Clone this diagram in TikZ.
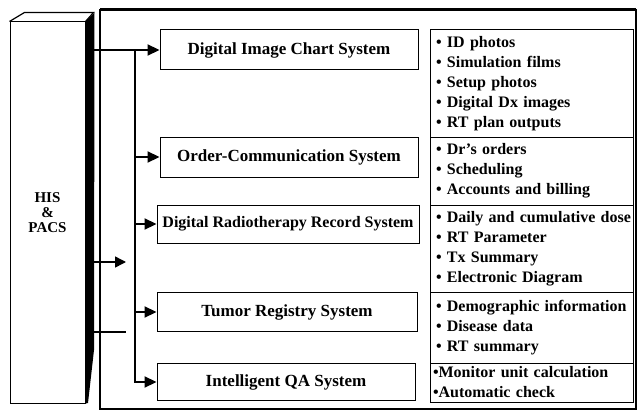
\documentclass[tikz,border=0pt]{standalone}
\usepackage{fontspec}
\setmainfont{Liberation Serif}
\usetikzlibrary{arrows.meta}

\begin{document}
\begin{tikzpicture}[x=1pt,y=-1pt,
    sysbox/.style={draw,line width=1pt,minimum width=258pt,minimum height=40pt,
      font=\bfseries\fontsize{17}{18}\selectfont},
    listbox/.style={draw,line width=1pt,minimum width=203pt,text width=191pt,
      align=left,inner xsep=6pt,inner ysep=0.5pt,font=\bfseries\fontsize{16}{20}\selectfont},
    conn/.style={line width=2.2pt,-{Triangle[length=12pt,width=11pt]}},
    feed/.style={line width=1.5pt}]
  \useasboundingbox (0,0) rectangle (640,412);
  \draw[line width=1.4pt] (100,10) rectangle (636,409);
  \draw[line width=3pt] (100,10) -- (636,10);

  \node[draw,line width=1pt,minimum width=75pt,minimum height=381pt,align=center,
    font=\bfseries\fontsize{15}{15}\selectfont] (his) at (47.5,212.5) {HIS\\\&\\PACS};
  \draw[line width=1.2pt] (his.north west) -- ++(15,-9) -- ++(69,0) -- (his.north east);
  \fill (his.north east) -- ++(9,-9) -- (94,350) -- (88,403) -- (his.south east) -- cycle;

  \node[sysbox] (dic) at (289,50) {Digital Image Chart System};
  \node[sysbox] (ocs) at (289,157) {Order-Communication System};
  \node[sysbox,minimum width=262pt,minimum height=38pt,inner xsep=1pt,
    font=\bfseries\fontsize{16}{18}\selectfont] (drrs) at (288,224)
    {Digital Radiotherapy Record System};
  \node[sysbox,minimum width=260pt,minimum height=39pt] (trs) at (287,312) {Tumor Registry System};
  \node[sysbox,minimum height=37pt] (qa) at (286,382) {Intelligent QA System};

  \node[listbox,minimum height=107pt] (dicl) at (531.5,83.5)
    {• ID photos\\• Simulation films\\• Setup photos\\• Digital Dx images\\• RT plan outputs};
  \node[listbox,minimum height=68pt] (ocsl) at (531.5,171)
    {• Dr’s orders\\• Scheduling\\• Accounts and billing};
  \node[listbox,minimum height=87pt] (drrsl) at (531.5,248.5)
    {\mbox{• Daily and cumulative dose}\\• RT Parameter\\• Tx Summary\\• Electronic Diagram};
  \node[listbox,minimum height=71pt] (trsl) at (531.5,327.5)
    {\mbox{• Demographic information}\\• Disease data\\• RT summary};
  \node[listbox,minimum height=39pt,inner xsep=3pt,text width=197pt] (qal) at (531.5,382.5)
    {•Monitor unit calculation\\•Automatic check};

  \coordinate (hisr) at (93,0);
  \coordinate (trunk) at (135,0);
  \coordinate (in1) at (126,262);
  \coordinate (in2) at (126,332);
  \draw[conn] (hisr |- dic.west) -- (dic.west);
  \draw[conn] (trunk |- dic.west) -- (trunk |- qa.west) -- (qa.west);
  \foreach \n in {ocs,drrs,trs}
    \draw[conn] (trunk |- \n.west) -- (\n.west);
  \draw[feed,-{Triangle[length=11pt,width=11pt]}] (hisr |- in1) -- (in1);
  \draw[feed] (hisr |- in2) -- (in2);
\end{tikzpicture}
\end{document}
